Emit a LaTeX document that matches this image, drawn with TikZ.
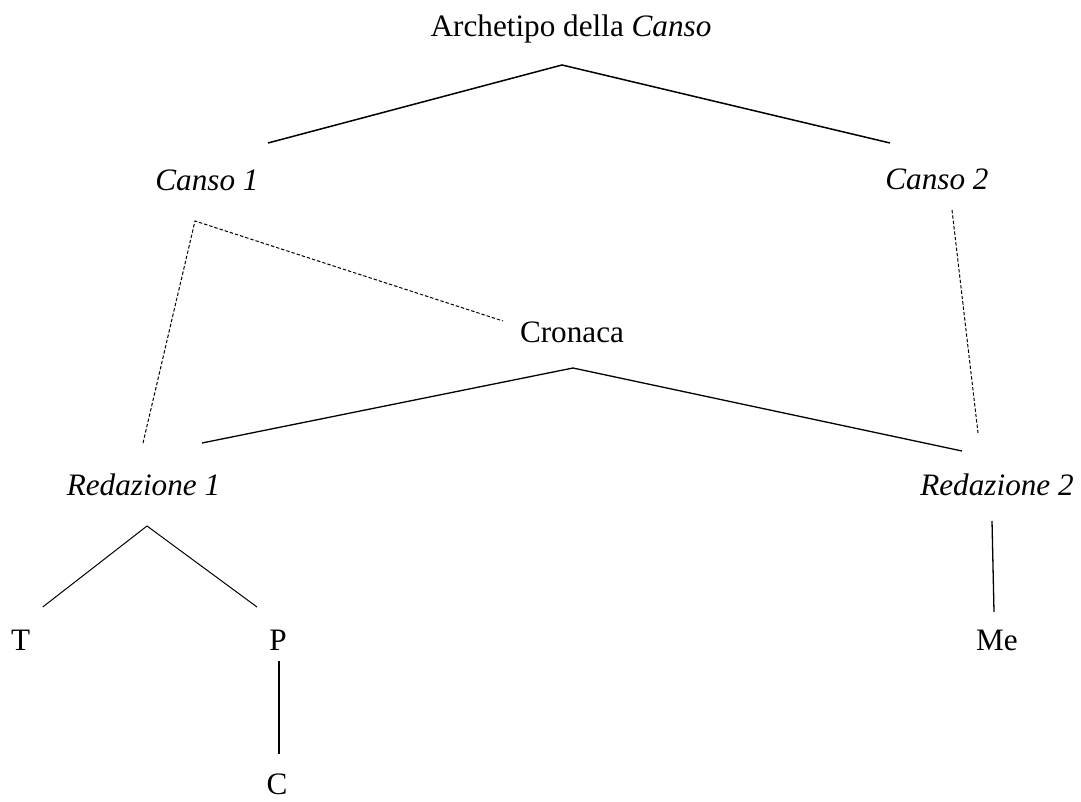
\documentclass[tikz,border=0pt]{standalone}
\usepackage{fontspec}
\setmainfont{Liberation Serif}
\usetikzlibrary{calc}

\tikzset{
  ms/.style={anchor=base,inner sep=0pt},
  link/.style={line width=0.65pt},
  contam/.style={line width=0.5pt,dash pattern=on 1.7pt off 1pt},
}

\begin{document}
\begin{tikzpicture}[x=0.5pt,y=-0.5pt,font=\fontsize{15.6}{18}\selectfont]
  \useasboundingbox (0,0) rectangle (1081,802);

  \node[ms] (arch) at (571,37) {Archetipo della \textit{Canso}};
  \node[ms] (canso1) at (207,191) {\textit{Canso 1}};
  \node[ms] (canso2) at (937,190) {\textit{Canso 2}};
  \node[ms] (cron) at (572,343) {Cronaca};
  \node[ms] (red1) at (143.5,495) {\textit{Redazione 1}};
  \node[ms] (red2) at (997,495) {\textit{Redazione 2}};
  \node[ms] (T) at (20.7,650) {T};
  \node[ms] (P) at (278,650) {P};
  \node[ms] (Me) at (997,650) {Me};
  \node[ms] (C) at (277,794) {C};

  \coordinate (arch-dn) at ($(arch.base)+(-9,28)$);
  \coordinate (canso1-up) at ($(canso1.base)+(61,-48)$);
  \coordinate (canso1-dn) at ($(canso1.base)+(-12,30)$);
  \coordinate (canso2-up) at ($(canso2.base)+(-47,-47)$);
  \coordinate (canso2-dn) at ($(canso2.base)+(15,20)$);
  \coordinate (cron-up) at ($(cron.base)+(-69,-22)$);
  \coordinate (cron-dn) at ($(cron.base)+(1,25)$);
  \coordinate (red1-upc) at ($(red1.base)+(-0.5,-52)$);
  \coordinate (red1-up) at ($(red1.base)+(58.5,-52)$);
  \coordinate (red1-dn) at ($(red1.base)+(3.5,31)$);
  \coordinate (red2-up) at ($(red2.base)+(-35,-44)$);
  \coordinate (red2-upc) at ($(red2.base)+(-19,-62)$);
  \coordinate (red2-dn) at ($(red2.base)+(-5,26)$);
  \coordinate (T-up) at ($(T.base)+(22,-43)$);
  \coordinate (P-up) at ($(P.base)+(-21,-43)$);
  \coordinate (P-dn) at ($(P.base)+(0.7,11)$);
  \coordinate (Me-up) at ($(Me.base)+(-3,-38)$);
  \coordinate (C-up) at ($(C.base)+(1.7,-40)$);

  \draw[link,line width=0.75pt] (canso1-up) -- (arch-dn) -- (canso2-up);
  \draw[contam] (red1-upc) -- (canso1-dn) -- (cron-up);
  \draw[contam] (canso2-dn) -- (red2-upc);
  \draw[link] (red1-up) -- (cron-dn) -- (red2-up);
  \draw[link,line width=0.5pt] (T-up) -- (red1-dn) -- (P-up);
  \draw[link,line width=1pt] (P-dn) -- (C-up);
  \draw[link] (red2-dn) -- (Me-up);
\end{tikzpicture}
\end{document}
